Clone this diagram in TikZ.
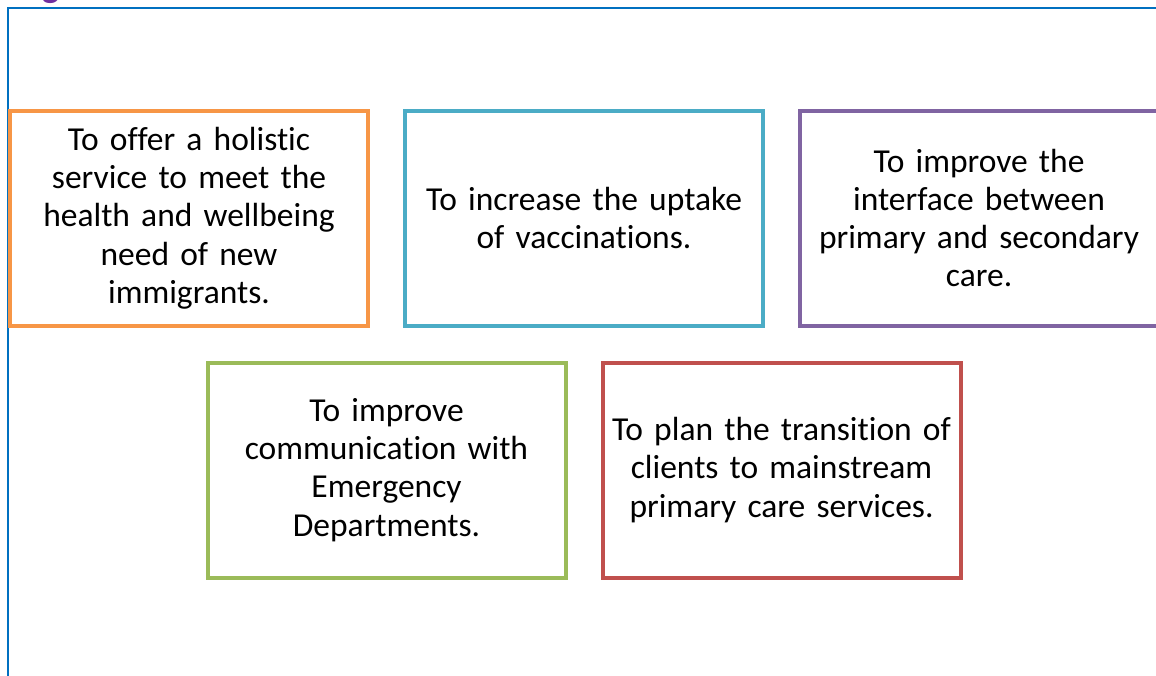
\documentclass[tikz,border=0pt]{standalone}
\usepackage{fontspec}
\setmainfont{Carlito}[Ligatures={NoCommon}, WordSpace=0.85]
\usetikzlibrary{positioning,calc}
\definecolor{goalorange}{HTML}{F79646}
\definecolor{goalcyan}{HTML}{4BACC6}
\definecolor{goalpurple}{HTML}{8064A2}
\definecolor{goalgreen}{HTML}{9BBB59}
\definecolor{goalred}{HTML}{C0504D}
\definecolor{frameblue}{HTML}{0070C0}
\definecolor{titlepurple}{HTML}{7030A0}
\tikzset{
  goalbox/.style={draw=#1, line width=4pt, rectangle, minimum width=358pt, minimum height=215pt,
    text width=350pt, align=center, inner sep=0pt,
    font=\fontsize{33.5}{38.3}\selectfont},
}
\begin{document}
\begin{tikzpicture}[x=1pt,y=-1pt]
\useasboundingbox (0,0) rectangle (1156,675);
% frame and cut-off heading
\draw[frameblue, line width=2pt] (8,680) -- (8,8) -- (1160,8);
\node[anchor=base west, text=titlepurple, font=\bfseries\fontsize{36}{40}\selectfont, inner sep=0pt] (head) at (42,-3) {g};

% top row
\node[goalbox=goalorange] (holistic) at (189,218) {To offer a holistic\\ service to meet the\\ health and wellbeing\\ need of new\\ immigrants.};
\node[goalbox=goalcyan, right=33pt of holistic] (vaccine) {To increase the uptake\\ of vaccinations.};
\node[goalbox=goalpurple, right=33pt of vaccine] (interface) {To improve the\\ interface between\\ primary and secondary\\ care.};

% bottom row
\coordinate (gapA) at ($(holistic.south)!0.5!(vaccine.south)$);
\coordinate (gapB) at ($(vaccine.south)!0.5!(interface.south)$);
\node[goalbox=goalgreen, below=33pt of gapA] (emergency) {To improve\\ communication with\\ Emergency\\ Departments.};
\node[goalbox=goalred, below=33pt of gapB] (transition) {To plan the transition of\\ clients to mainstream\\ primary care services.};
\end{tikzpicture}
\end{document}
